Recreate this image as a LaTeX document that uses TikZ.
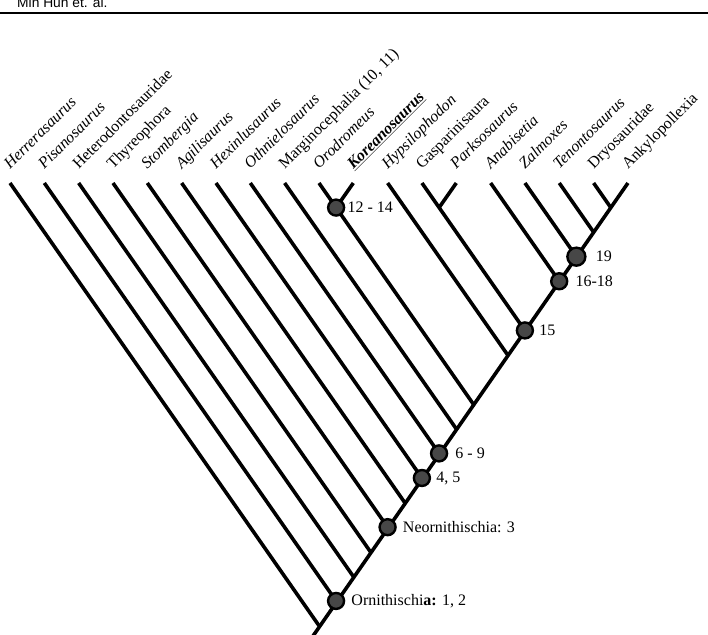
\documentclass[tikz,border=0pt]{standalone}
\usepackage{fontspec}
\setmainfont{Liberation Serif}
\newfontfamily\headfont{Liberation Sans}
\usetikzlibrary{positioning}
\tikzset{
  branch/.style={line width=3.6pt},
  clade/.style={circle, draw=black, line width=2.4pt, fill=black!72, minimum size=16pt, inner sep=0pt},
  taxon/.style={rotate=45, anchor=base west, inner sep=0pt, font=\fontsize{16}{18}\selectfont},
  apo/.style={anchor=west, inner sep=0pt, font=\fontsize{16}{18}\selectfont},
}
\begin{document}
\begin{tikzpicture}[x=1pt,y=1pt]
\useasboundingbox (0,0) rectangle (708,634);
% running head
\node[anchor=base west, inner sep=0pt, font=\headfont\fontsize{13.8}{14}\selectfont] (head) at (17,626.5) {Min Huh et. al.};
\coordinate (rl) at (0,621);
\coordinate (rr) at (708,621);
\draw[line width=1.4pt] (rl) -- (rr);

% tips and where each one meets the trunk
\foreach \i in {0,...,18} {
  \pgfmathsetmacro\tx{10+34.33*\i}
  \coordinate (t\i) at (\tx,451);
  \coordinate (j\i) at ({(\tx+627.8)/2},{(\tx+1.8)/1.396});
}
\coordinate (root) at (313,-2);
% forks of the two pairs
\coordinate (y9) at (336.1,426.4);
\coordinate (y12) at (439.1,426.4);

% taxon names
\foreach \i/\txt in {0/\textit{Herrerasaurus}, 1/\textit{Pisanosaurus}, 2/Heterodontosauridae,
    3/Thyreophora, 4/\textit{Stombergia}, 5/\textit{Agilisaurus}, 6/\textit{Hexinlusaurus},
    7/\textit{Othnielosaurus}, 8/{Marginocephalia (10, 11)}, 9/\textit{Orodromeus},
    10/\underline{\textbf{\textit{Koreanosaurus}}}, 11/\textit{Hypsilophodon}, 12/Gasparinisaura,
    13/\textit{Parksosaurus}, 14/\textit{Anabisetia}, 15/\textit{Zalmoxes},
    16/\textit{Tenontosaurus}, 17/Dryosauridae, 18/Ankylopollexia}
  \node[taxon] (lab\i) at ([yshift=13pt]t\i) {\txt};

% branches
\foreach \i in {0,...,9,11,12,14,15,16,17}
  \draw[branch] (t\i) -- (j\i);
\draw[branch] (t10) -- (y9);
\draw[branch] (t13) -- (y12);
\draw[branch] (root) -- (t18);

% nodes
\node[clade] (orn) at (j1) {};
\node[clade] (neo) at (j4) {};
\node[clade] (c45) at (j6) {};
\node[clade] (c69) at (j7) {};
\node[clade] (c1214) at (y9) {};
\node[clade] (c15) at (j12) {};
\node[clade] (c1618) at (j14) {};
\node[clade, minimum size=18pt] (c19) at (j15) {};

\node[apo, right=6pt of orn] (lorn) {Ornithischi\textbf{a:} 1, 2};
\node[apo, right=6pt of neo] (lneo) {Neornithischia: 3};
\node[apo, right=5pt of c45] (l45) {4, 5};
\node[apo, right=7pt of c69] (l69) {6 - 9};
\node[apo, right=2pt of c1214] (l1214) {12 - 14};
\node[apo, right=5pt of c15] (l15) {15};
\node[apo, right=7pt of c1618] (l1618) {16-18};
\node[apo, right=9pt of c19] (l19) {19};
\end{tikzpicture}
\end{document}
